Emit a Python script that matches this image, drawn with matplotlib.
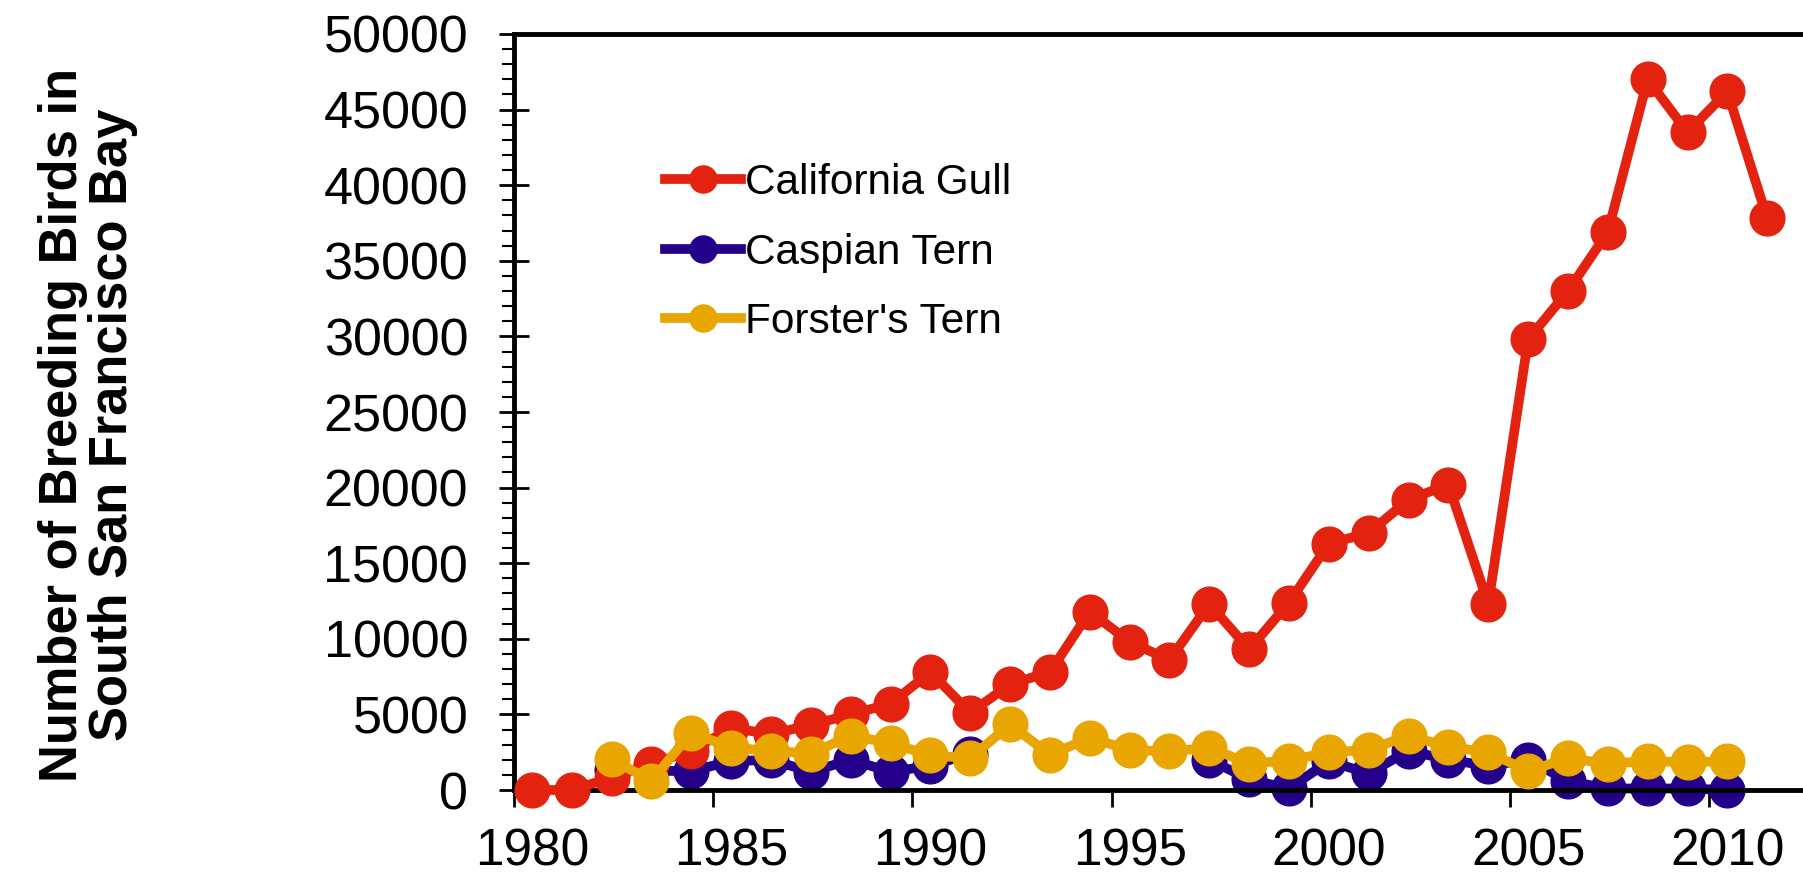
import numpy as np
import matplotlib.pyplot as plt
from matplotlib.ticker import MultipleLocator, FixedLocator, NullFormatter

plt.rcParams['font.family'] = ['Liberation Sans', 'DejaVu Sans']

years = np.arange(1980, 2012)
nan = np.nan
california_gull = [0, 0, 820, 1700, 2600, 4100, 3700, 4300, 5000, 5700,
                   7800, 5100, 7000, 7800, 11800, 9800, 8600, 12300, 9300, 12400,
                   16300, 17000, 19200, 20200, 12300, 29800, 33000, 36900, 47000, 43500,
                   46200, 37800]
caspian_tern = [nan, nan, 1300, 1260, 1260, 1900, 2000, 1200, 2000, 1200,
                1600, 2400, nan, nan, nan, nan, nan, 2000, 700, 100,
                1900, 1100, 2600, 2000, 1600, 2000, 600, 100, 100, 100,
                0, nan]
forsters_tern = [nan, nan, 2030, 600, 3800, 2800, 2600, 2400, 3600, 3100,
                 2300, 2100, 4340, 2330, 3450, 2650, 2550, 2800, 1750, 1950,
                 2500, 2650, 3600, 2850, 2500, 1250, 2100, 1750, 1900, 1850,
                 1900, nan]

series = [("California Gull", california_gull, "#E3220F", 3),
          ("Caspian Tern", caspian_tern, "#24008A", 2),
          ("Forster's Tern", forsters_tern, "#E9A600", 4)]

fig = plt.figure(figsize=(18.03, 8.77), dpi=100)
W, H = 1803, 877
left, top, bottom = 514, 34, 790
ax = fig.add_axes([left / W, 1 - bottom / H, (W - left) / W + 0.01, (bottom - top) / H])

xpos = years + 0.45
for name, vals, col, z in series:
    ax.plot(xpos, vals, color=col, lw=7, marker='o', ms=25,
            label=name, clip_on=False, zorder=z)

px_per_year = 39.6
ax.set_xlim(1980, 1980 + (W - left) / px_per_year + 0.25)
ax.set_ylim(0, 50000)

ax.yaxis.set_major_locator(MultipleLocator(5000))
ax.yaxis.set_minor_locator(MultipleLocator(1000))
ax.xaxis.set_major_locator(FixedLocator(np.arange(1980, 2015, 5)))
ax.xaxis.set_major_formatter(NullFormatter())
ax.xaxis.set_minor_locator(FixedLocator(np.arange(1980, 2015, 5) + 0.45))
ax.xaxis.set_minor_formatter(plt.FuncFormatter(lambda v, p: str(int(round(v - 0.45)))))

ax.tick_params(axis='y', which='major', direction='inout', length=22, width=2,
               labelsize=37.5, pad=22)
ax.tick_params(axis='y', which='minor', direction='out', length=9, width=1.5)
ax.tick_params(axis='x', which='major', direction='out', length=12, width=2)
ax.tick_params(axis='x', which='minor', length=0, labelsize=37, pad=27)

for s in ['left', 'bottom', 'top']:
    ax.spines[s].set_linewidth(3.5)
ax.spines['right'].set_visible(False)

ax.legend(loc='upper left', bbox_to_anchor=(665 / W, 1 - 163 / H),
          bbox_transform=fig.transFigure, frameon=False, fontsize=30.5,
          handlelength=1.8, handletextpad=0.1, labelspacing=0.7,
          borderpad=0, borderaxespad=0, markerscale=0.78)

fig.text(88 / W, 1 - 425 / H, "Number of Breeding Birds in\nSouth San Francisco Bay",
         rotation=90, ha='center', va='center', multialignment='center',
         fontsize=37.8, fontweight='bold', linespacing=1.0)

fig.savefig("out.png", dpi=100)
